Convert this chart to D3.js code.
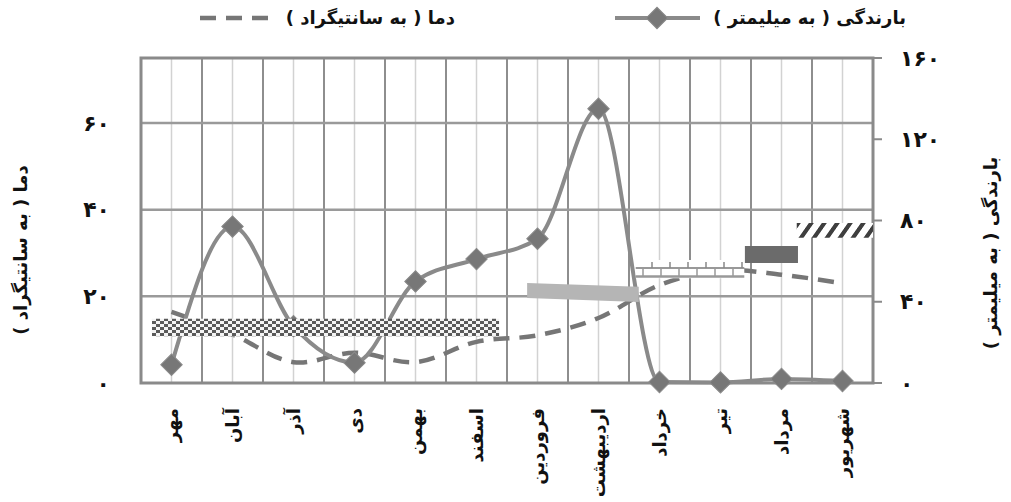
<!DOCTYPE html>
<html>
<head>
<meta charset="utf-8">
<script src="https://cdn.jsdelivr.net/npm/d3@7"></script>
<style>
  html, body { margin: 0; padding: 0; background: #fff; }
  svg { display: block; }
  text { font-family: "DejaVu Sans", sans-serif; font-weight: bold; fill: #111; }
</style>
</head>
<body>
<svg id="chart" width="1011" height="502"></svg>
<script>
// ---------- data ----------
const months = ["مهر","آبان","آذر","دی","بهمن","اسفند","فروردین","اردیبهشت","خرداد","تیر","مرداد","شهریور"];
const rainfall = [9, 77, 28, 10, 50, 61, 71, 135, 0.5, 0.3, 2, 1];          // mm (right axis)
const temperature = [16.4, 11.2, 4.8, 7, 4.8, 9.5, 11, 15, 22.6, 26, 25, 23]; // °C (left axis)
const leftTicks = [0, 20, 40, 60];
const rightTicks = [0, 40, 80, 120, 160];
const legendLabels = ["بارندگی ( به میلیمتر )", "دما ( به سانتیگراد )"];
const leftTitle = "دما ( به سانتیگراد )";
const rightTitle = "بارندگی ( به میلیمتر )";
// climate bands: month-index range and temperature range (left axis units)
const bandStart = [-0.32, 5.83, 7.61, 9.40, 10.25];
const bandEnd   = [5.37, 7.66, 9.39, 10.27, 11.5];
const bandTopL  = [14.8, 23.1, 28.4, 31.6, 36.9];
const bandBotL  = [10.8, 19.6, 24.2, 27.7, 33.5];
const bandTopR  = [14.8, 22.2, 28.4, 31.6, 36.9];
const bandBotR  = [10.8, 18.7, 24.2, 27.7, 33.5];
const bandFill  = ["url(#checker)", "#b5b5b5", "url(#brick)", "#6b6b6b", "url(#hatch)"];

const fa = d => String(d).replace(/\d/g, c => "۰۱۲۳۴۵۶۷۸۹"[+c]);

// ---------- layout ----------
const svg = d3.select("#chart");
const L = 141, R = 873, T = 58, B = 383;
const x = d3.scaleLinear().domain([-0.5, 11.5]).range([L, R]);
const yL = d3.scaleLinear().domain([0, 75]).range([B, T]);
const yR = d3.scaleLinear().domain([0, 160]).range([B, T]);

// patterns
const defs = svg.append("defs");
const chk = defs.append("pattern").attr("id", "checker").attr("patternUnits", "userSpaceOnUse")
  .attr("width", 8).attr("height", 6);
chk.append("rect").attr("width", 8).attr("height", 6).attr("fill", "#5a5a5a");
chk.append("rect").attr("x", 0).attr("y", 0).attr("width", 4).attr("height", 3).attr("fill", "#f4f4f4");
chk.append("rect").attr("x", 4).attr("y", 3).attr("width", 4).attr("height", 3).attr("fill", "#f4f4f4");

const brick = defs.append("pattern").attr("id", "brick").attr("patternUnits", "userSpaceOnUse")
  .attr("width", 18).attr("height", 18).attr("y", 260);
brick.append("rect").attr("width", 18).attr("height", 18).attr("fill", "#fff");
brick.append("line").attr("x1", 0).attr("x2", 18).attr("y1", 8).attr("y2", 8).attr("stroke", "#999").attr("stroke-width", 2);
brick.append("line").attr("x1", 0).attr("x2", 18).attr("y1", 16.5).attr("y2", 16.5).attr("stroke", "#999").attr("stroke-width", 2.5);
brick.append("line").attr("x1", 4).attr("x2", 4).attr("y1", 2).attr("y2", 8).attr("stroke", "#888").attr("stroke-width", 1.5);
brick.append("line").attr("x1", 13).attr("x2", 13).attr("y1", 8).attr("y2", 17).attr("stroke", "#999").attr("stroke-width", 1.5);

const hatch = defs.append("pattern").attr("id", "hatch").attr("patternUnits", "userSpaceOnUse")
  .attr("width", 13).attr("height", 15).attr("patternTransform", "skewX(-35)");
hatch.append("rect").attr("width", 13).attr("height", 15).attr("fill", "#fff");
hatch.append("rect").attr("x", 3).attr("width", 5).attr("height", 15).attr("fill", "#3f3f3f");

// ---------- grid ----------
const g = svg.append("g");
g.selectAll(".vmid").data(months).join("line")
  .attr("x1", (d, i) => x(i)).attr("x2", (d, i) => x(i))
  .attr("y1", T).attr("y2", B).attr("stroke", "#d2d2d2").attr("stroke-width", 1.5);
g.selectAll(".vb").data(d3.range(1, 12)).join("line")
  .attr("x1", d => x(d - 0.5)).attr("x2", d => x(d - 0.5))
  .attr("y1", T).attr("y2", B).attr("stroke", "#8e8e8e").attr("stroke-width", 2);
g.selectAll(".hg").data(leftTicks.filter(d => d > 0)).join("line")
  .attr("x1", L).attr("x2", R).attr("y1", d => yL(d)).attr("y2", d => yL(d))
  .attr("stroke", "#9a9a9a").attr("stroke-width", 2.5);
g.append("rect").attr("x", L).attr("y", T).attr("width", R - L).attr("height", B - T)
  .attr("fill", "none").attr("stroke", "#8a8a8a").attr("stroke-width", 3);

g.selectAll(".rt").data(rightTicks).join("line")
  .attr("x1", R).attr("x2", R + 9).attr("y1", d => yR(d)).attr("y2", d => yR(d))
  .attr("stroke", "#8a8a8a").attr("stroke-width", 2);

// axis labels
svg.append("g").selectAll("text").data(leftTicks).join("text")
  .attr("x", 110).attr("y", d => yL(d)).attr("dy", "0.35em")
  .attr("text-anchor", "end").attr("font-size", 22).text(fa);
svg.append("g").selectAll("text").data(rightTicks).join("text")
  .attr("x", 900).attr("y", d => yR(d)).attr("dy", "0.35em")
  .attr("text-anchor", "start").attr("font-size", 22).text(fa);

// month labels
svg.append("g").selectAll("text").data(months).join("text")
  .attr("transform", (d, i) => `translate(${x(i)},408) rotate(-90)`)
  .attr("text-anchor", "end").attr("dy", "0.35em").attr("font-size", 18).text(d => d);

// axis titles
svg.append("text").attr("transform", "translate(21,250) rotate(-90)")
  .attr("text-anchor", "middle").attr("dy", "0.35em").attr("font-size", 18).text(leftTitle);
svg.append("text").attr("transform", "translate(991,253) rotate(-90)")
  .attr("text-anchor", "middle").attr("dy", "0.35em").attr("font-size", 18).text(rightTitle);

// ---------- series ----------
const tempLine = d3.line().x((d, i) => x(i)).y(d => yL(d)).curve(d3.curveCatmullRom.alpha(0.5));
svg.append("path").datum(temperature).attr("d", tempLine)
  .attr("fill", "none").attr("stroke", "#767676").attr("stroke-width", 4.5)
  .attr("stroke-dasharray", "16,10");

const rainLine = d3.line().x((d, i) => x(i)).y(d => yR(d)).curve(d3.curveMonotoneX);
svg.append("path").datum(rainfall).attr("d", rainLine)
  .attr("fill", "none").attr("stroke", "#8a8a8a").attr("stroke-width", 4);

const diamond = d3.symbol().type(d3.symbolSquare).size(230);
svg.append("g").selectAll("path").data(rainfall).join("path")
  .attr("d", diamond)
  .attr("transform", (d, i) => `translate(${x(i)},${yR(d)}) rotate(45)`)
  .attr("fill", "#777").attr("stroke", "#8a8a8a").attr("stroke-width", 1);

// climate bands
svg.append("g").selectAll("path").data(bandStart).join("path")
  .attr("d", (d, i) => {
    const x0 = x(bandStart[i]), x1 = x(bandEnd[i]);
    return `M${x0},${yL(bandTopL[i])}L${x1},${yL(bandTopR[i])}L${x1},${yL(bandBotR[i])}L${x0},${yL(bandBotL[i])}Z`;
  })
  .attr("fill", (d, i) => bandFill[i]);

// ---------- legend ----------
const lg = svg.append("g");
lg.append("line").attr("x1", 615).attr("x2", 700).attr("y1", 18).attr("y2", 18)
  .attr("stroke", "#8a8a8a").attr("stroke-width", 4);
lg.append("path").attr("d", diamond).attr("transform", "translate(657,18) rotate(45)")
  .attr("fill", "#777").attr("stroke", "#8a8a8a");
lg.append("text").attr("x", 906).attr("y", 18).attr("dy", "0.35em").attr("text-anchor", "end")
  .attr("font-size", 18).text(legendLabels[0]);
lg.append("line").attr("x1", 200).attr("x2", 277).attr("y1", 18).attr("y2", 18)
  .attr("stroke", "#767676").attr("stroke-width", 4.5).attr("stroke-dasharray", "16,10");
lg.append("text").attr("x", 455).attr("y", 18).attr("dy", "0.35em").attr("text-anchor", "end")
  .attr("font-size", 18).text(legendLabels[1]);
</script>
</body>
</html>
